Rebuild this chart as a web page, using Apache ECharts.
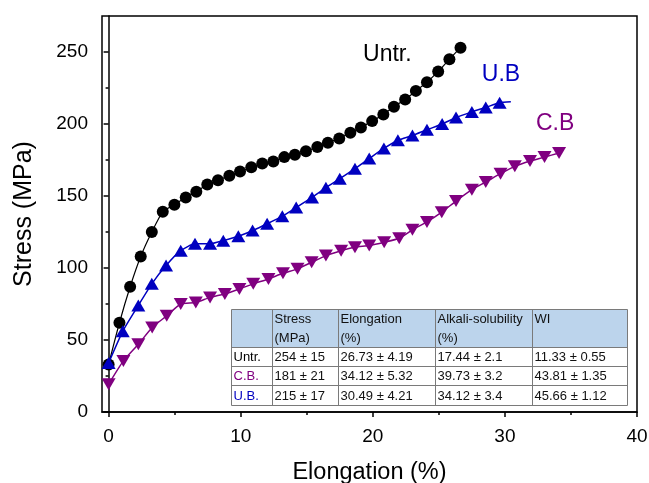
<!DOCTYPE html>
<html>
<head>
<meta charset="utf-8">
<script src="https://cdn.jsdelivr.net/npm/echarts@6/dist/echarts.min.js"></script>
<style>
html, body { margin: 0; padding: 0; background: #fff; }
#chart { width: 649px; height: 483px; }
</style>
</head>
<body>
<div id="chart"></div>
<script>
// values
var untrX = [0, 0.82, 1.63, 2.43, 3.27, 4.1, 4.98, 5.84, 6.64, 7.47, 8.28, 9.14, 9.95, 10.8, 11.63, 12.47, 13.3,
	14.1, 14.94, 15.8, 16.6, 17.46, 18.3, 19.1, 19.95, 20.8, 21.6, 22.45, 23.26, 24.1, 24.95, 25.8, 26.64];
var untrY = [33, 62, 87, 108, 125, 139, 144, 149, 153, 158, 161, 164, 167, 170, 172.5, 174, 177,
	178.7, 181, 184, 187, 190, 194, 197.6, 202, 206.6, 212, 217, 223, 229, 236.5, 245, 253];
var ubX = [0, 1.07, 2.25, 3.27, 4.35, 5.46, 6.54, 7.68, 8.68, 9.82, 10.9, 12.0, 13.15, 14.2, 15.4,
	16.45, 17.5, 18.65, 19.73, 20.84, 21.9, 23.0, 24.1, 25.25, 26.3, 27.5, 28.55, 29.6, 30.45];
var ubY = [34, 56, 74, 89, 101.7, 112, 116.8, 116.8, 119, 122, 126, 130.7, 136, 142, 149,
	155.8, 162, 169, 176, 183, 188.7, 192, 196, 200, 204.5, 208.4, 211.5, 214.7, 215.4];
var cbX = [0, 1.12, 2.25, 3.3, 4.4, 5.46, 6.6, 7.68, 8.8, 9.9, 10.95, 12.1, 13.2, 14.3, 15.37, 16.45,
	17.6, 18.65, 19.73, 20.86, 22.0, 23.0, 24.1, 25.22, 26.3, 27.5, 28.55, 29.67, 30.75, 31.9, 33.0, 34.1];
var cbY = [19.3, 35.5, 47, 58.7, 66.8, 75, 76, 79.6, 82, 85.4, 89, 92.4, 96.3, 99.4, 104, 108.6,
	112, 114.4, 115.6, 117.9, 120.7, 126.5, 132, 138.8, 146.5, 154.4, 159.7, 165.5, 170.6, 174.3, 177, 179.9];

var xMajor = [0, 10, 20, 30, 40];
var xMinor = [5, 15, 25, 35];
var yMajor = [0, 50, 100, 150, 200, 250];
var yMinor = [25, 75, 125, 175, 225];

// curve names and where their names sit (data units)
var names = ["Untr.", "U.B", "C.B"];
var nameAt = [[21.1, 248], [29.7, 234], [33.8, 200]];

var tableHead = [["", ""], ["Stress", "(MPa)"], ["Elongation", "(%)"], ["Alkali-solubility", "(%)"], ["WI", ""]];
var tableRows = [
	["Untr.", "254 ± 15", "26.73 ± 4.19", "17.44 ± 2.1", "11.33 ± 0.55"],
	["C.B.", "181 ± 21", "34.12 ± 5.32", "39.73 ± 3.2", "43.81 ± 1.35"],
	["U.B.", "215 ± 17", "30.49 ± 4.21", "34.12 ± 3.4", "45.66 ± 1.12"]
];

var FONT = "'Liberation Sans', Arial, sans-serif";
var BLACK = "#000000", BLUE = "#0000c0", PURPLE = "#800080";
var rowColor = [BLACK, PURPLE, BLUE];

function pairs(xs, ys) {
	var out = [];
	for (var i = 0; i < xs.length; i++) {
		out.push([xs[i], ys[i]]);
	}
	return out;
}

var ubData = pairs(ubX, ubY);
// last U.B point: line end, no marker
ubData[ubData.length - 1] = { value: ubData[ubData.length - 1], symbol: "none" };

function nameMark(i, color) {
	return {
		symbol: "circle",
		symbolSize: 0,
		silent: true,
		label: { show: true, position: "inside", formatter: names[i], color: color, fontFamily: FONT, fontSize: 23 },
		data: [{ coord: nameAt[i] }]
	};
}

// table drawn as graphic
var colX = [0, 41, 107, 204, 301, 396];
var rowY = [0, 38, 57, 76, 96];
var tbl = [];
tbl.push({ type: "rect", shape: { x: 0, y: 0, width: colX[5], height: rowY[1] }, style: { fill: "#bcd4ec" } });
for (var r = 0; r < rowY.length; r++) {
	tbl.push({ type: "line", shape: { x1: 0, y1: rowY[r], x2: colX[5], y2: rowY[r] }, style: { stroke: "#7a7a7a", lineWidth: 1 } });
}
for (var c = 0; c < colX.length; c++) {
	tbl.push({ type: "line", shape: { x1: colX[c], y1: 0, x2: colX[c], y2: rowY[4] }, style: { stroke: "#7a7a7a", lineWidth: 1 } });
}
for (var c = 0; c < tableHead.length; c++) {
	for (var k = 0; k < 2; k++) {
		if (!tableHead[c][k]) continue;
		tbl.push({ type: "text", x: colX[c] + 2, y: k == 0 ? 10 : 29,
			style: { text: tableHead[c][k], font: "13px " + FONT, fill: "#111", verticalAlign: "middle" } });
	}
}
for (var r = 0; r < tableRows.length; r++) {
	for (var c = 0; c < tableRows[r].length; c++) {
		tbl.push({ type: "text", x: colX[c] + 2, y: (rowY[r + 1] + rowY[r + 2]) / 2 + 0.5,
			style: { text: tableRows[r][c], font: "13px " + FONT, fill: c == 0 ? rowColor[r] : "#111", verticalAlign: "middle" } });
	}
}

var axisFont = { fontFamily: FONT, fontSize: 19, color: "#000" };

var option = {
	backgroundColor: "#fff",
	animation: false,
	grid: [
		{ left: 102, right: 12, top: 16, bottom: 71, outerBoundsMode: "none", show: true, borderColor: "#000", borderWidth: 1.5 },
		{ left: 102, right: 12, top: 16, bottom: 71, outerBoundsMode: "none" }
	],
	xAxis: [{
		type: "value", gridIndex: 0, min: -0.5, max: 40,
		name: "Elongation (%)", nameLocation: "middle", nameGap: 49,
		nameTextStyle: { fontFamily: FONT, fontSize: 23.5, color: "#000" },
		axisLine: { lineStyle: { color: "#000", width: 1.5 } },
		axisTick: { customValues: xMajor, length: 5, lineStyle: { width: 1.5, color: "#000" } },
		axisLabel: Object.assign({ customValues: xMajor, margin: 15 }, axisFont),
		splitLine: { show: false }
	}, {
		type: "value", gridIndex: 1, min: -0.5, max: 40,
		axisLine: { show: false },
		axisTick: { customValues: xMinor, length: 3, lineStyle: { width: 1.5, color: "#000" } },
		axisLabel: { show: false },
		splitLine: { show: false }
	}],
	yAxis: [{
		type: "value", gridIndex: 0, min: 0, max: 275,
		name: "Stress (MPa)", nameLocation: "middle", nameGap: 65, nameRotate: 90,
		nameTextStyle: { fontFamily: FONT, fontSize: 25, color: "#000" },
		axisLine: { show: true, lineStyle: { color: "#000", width: 1.5 } },
		axisTick: { show: true, customValues: yMajor, length: 5, lineStyle: { width: 1.5, color: "#000" } },
		axisLabel: Object.assign({ customValues: yMajor, margin: 14 }, axisFont),
		splitLine: { show: false }
	}, {
		type: "value", gridIndex: 1, min: 0, max: 275,
		axisLine: { show: false },
		axisTick: { show: true, customValues: yMinor, length: 3, lineStyle: { width: 1.5, color: "#000" } },
		axisLabel: { show: false },
		splitLine: { show: false }
	}],
	series: [{
		name: "Untr.", type: "line", data: pairs(untrX, untrY),
		symbol: "circle", symbolSize: 12, smooth: 0.2,
		lineStyle: { color: BLACK, width: 1.2 }, itemStyle: { color: BLACK },
		markPoint: nameMark(0, BLACK), z: 2
	}, {
		name: "C.B", type: "line", data: pairs(cbX, cbY),
		symbol: "triangle", symbolRotate: 180, symbolSize: [14, 12], smooth: 0.2,
		lineStyle: { color: PURPLE, width: 1.5 }, itemStyle: { color: PURPLE },
		markPoint: nameMark(2, PURPLE), z: 3
	}, {
		name: "U.B", type: "line", data: ubData,
		symbol: "triangle", symbolSize: [14, 12], smooth: 0.2,
		lineStyle: { color: BLUE, width: 1.5 }, itemStyle: { color: BLUE },
		markPoint: nameMark(1, BLUE), z: 4
	}],
	graphic: [{ type: "group", left: 229, top: 307, z: 100, children: tbl }]
};

var chart = echarts.init(document.getElementById("chart"));
chart.setOption(option);
</script>
</body>
</html>
